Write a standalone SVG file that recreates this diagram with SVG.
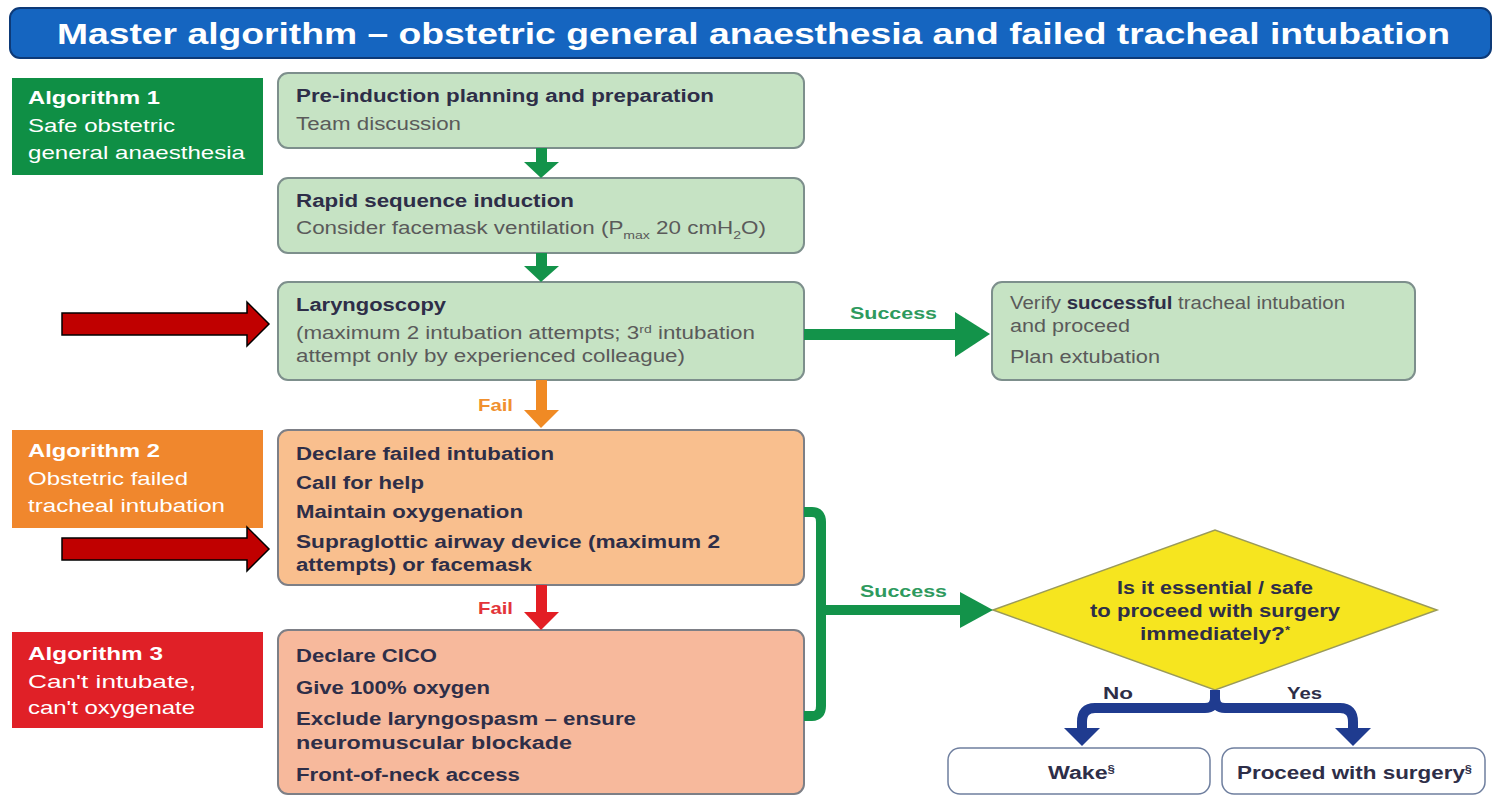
<svg xmlns="http://www.w3.org/2000/svg" width="1500" height="796" viewBox="0 0 1500 796">
<style>
text{font-family:"Liberation Sans",Arial,sans-serif}
.alg{fill:#fff;font-size:19px}
.algb{fill:#fff;font-size:19px;font-weight:bold}
.h{fill:#2e2e48;font-size:17.5px;font-weight:bold}
.t{fill:#5a5a5a;font-size:17.5px}
.gbox{fill:#c6e3c4;stroke:#7d8f8c;stroke-width:2}
.obox{fill:#f9bf8e;stroke:#7d7f86;stroke-width:2}
.rbox{fill:#f7b99c;stroke:#7d7f86;stroke-width:2}
.wbox{fill:#fff;stroke:#6f7f9f;stroke-width:1.5}
.lbl{font-size:17px;font-weight:bold}
.red{fill:#c00000;stroke:#000;stroke-width:1.5}
</style>
<rect width="1500" height="796" fill="#fff"/>
<g id="title">
<rect x="10" y="8" width="1481" height="50" rx="10" fill="#1565c0" stroke="#0d3a78" stroke-width="2"/>
<text x="57" y="44" fill="#fff" font-size="29" font-weight="bold" textLength="1393" lengthAdjust="spacingAndGlyphs">Master algorithm – obstetric general anaesthesia and failed tracheal intubation</text>
</g>
<g id="alg1">
<rect x="12" y="78" width="251" height="97" fill="#0f8f45"/>
<text class="algb" x="28" y="104" textLength="132" lengthAdjust="spacingAndGlyphs">Algorithm 1</text>
<text class="alg" x="28" y="132" textLength="147" lengthAdjust="spacingAndGlyphs">Safe obstetric</text>
<text class="alg" x="28" y="159" textLength="217" lengthAdjust="spacingAndGlyphs">general anaesthesia</text>
</g>
<g id="alg2">
<rect x="12" y="430" width="251" height="98" fill="#f0872d"/>
<text class="algb" x="28" y="457" textLength="132" lengthAdjust="spacingAndGlyphs">Algorithm 2</text>
<text class="alg" x="28" y="485" textLength="160" lengthAdjust="spacingAndGlyphs">Obstetric failed</text>
<text class="alg" x="28" y="512" textLength="197" lengthAdjust="spacingAndGlyphs">tracheal intubation</text>
</g>
<g id="alg3">
<rect x="12" y="632" width="251" height="96" fill="#e02027"/>
<text class="algb" x="28" y="660" textLength="135" lengthAdjust="spacingAndGlyphs">Algorithm 3</text>
<text class="alg" x="28" y="688" textLength="168" lengthAdjust="spacingAndGlyphs">Can't intubate,</text>
<text class="alg" x="28" y="714" textLength="167" lengthAdjust="spacingAndGlyphs">can't oxygenate</text>
</g>
<g id="preinduction">
<rect class="gbox" x="278" y="73" width="526" height="75" rx="10"/>
<text class="h" x="296" y="102" textLength="418" lengthAdjust="spacingAndGlyphs">Pre-induction planning and preparation</text>
<text class="t" x="296" y="130" textLength="165" lengthAdjust="spacingAndGlyphs">Team discussion</text>
</g>
<g id="rsi">
<rect class="gbox" x="278" y="178" width="526" height="75" rx="10"/>
<text class="h" x="296" y="207" textLength="278" lengthAdjust="spacingAndGlyphs">Rapid sequence induction</text>
<text class="t" x="296" y="234" textLength="470" lengthAdjust="spacingAndGlyphs">Consider facemask ventilation (P<tspan dy="5" font-size="11">max</tspan><tspan dy="-5"> 20 cmH</tspan><tspan dy="5" font-size="11">2</tspan><tspan dy="-5">O)</tspan></text>
</g>
<g id="laryngoscopy">
<rect class="gbox" x="278" y="282" width="526" height="98" rx="10"/>
<text class="h" x="296" y="311" textLength="150" lengthAdjust="spacingAndGlyphs">Laryngoscopy</text>
<text class="t" x="296" y="339" textLength="459" lengthAdjust="spacingAndGlyphs">(maximum 2 intubation attempts; 3<tspan dy="-6" font-size="11">rd</tspan><tspan dy="6"> intubation</tspan></text>
<text class="t" x="296" y="362" textLength="389" lengthAdjust="spacingAndGlyphs">attempt only by experienced colleague)</text>
</g>
<g id="verify">
<rect class="gbox" x="992" y="282" width="423" height="98" rx="10"/>
<text class="t" x="1010" y="309" textLength="335" lengthAdjust="spacingAndGlyphs">Verify <tspan font-weight="bold" fill="#2e2e48">successful</tspan> tracheal intubation</text>
<text class="t" x="1010" y="332" textLength="120" lengthAdjust="spacingAndGlyphs">and proceed</text>
<text class="t" x="1010" y="363" textLength="150" lengthAdjust="spacingAndGlyphs">Plan extubation</text>
</g>
<g id="failed">
<rect class="obox" x="278" y="430" width="526" height="155" rx="10"/>
<text class="h" x="296" y="460" textLength="258" lengthAdjust="spacingAndGlyphs">Declare failed intubation</text>
<text class="h" x="296" y="489" textLength="128" lengthAdjust="spacingAndGlyphs">Call for help</text>
<text class="h" x="296" y="518" textLength="227" lengthAdjust="spacingAndGlyphs">Maintain oxygenation</text>
<text class="h" x="296" y="548" textLength="424" lengthAdjust="spacingAndGlyphs">Supraglottic airway device (maximum 2</text>
<text class="h" x="296" y="571" textLength="236" lengthAdjust="spacingAndGlyphs">attempts) or facemask</text>
</g>
<g id="cico">
<rect class="rbox" x="278" y="630" width="526" height="164" rx="10"/>
<text class="h" x="296" y="662" textLength="141" lengthAdjust="spacingAndGlyphs">Declare CICO</text>
<text class="h" x="296" y="694" textLength="194" lengthAdjust="spacingAndGlyphs">Give 100% oxygen</text>
<text class="h" x="296" y="725" textLength="340" lengthAdjust="spacingAndGlyphs">Exclude laryngospasm – ensure</text>
<text class="h" x="296" y="749" textLength="276" lengthAdjust="spacingAndGlyphs">neuromuscular blockade</text>
<text class="h" x="296" y="781" textLength="224" lengthAdjust="spacingAndGlyphs">Front-of-neck access</text>
</g>
<g id="decision">
<polygon points="993,610 1215,530 1437,610 1215,690" fill="#f6e51f" stroke="#9a9a5a" stroke-width="1.5"/>
<text class="h" x="1117" y="594" font-size="16" textLength="196" lengthAdjust="spacingAndGlyphs">Is it essential / safe</text>
<text class="h" x="1090" y="617" font-size="16" textLength="250" lengthAdjust="spacingAndGlyphs">to proceed with surgery</text>
<text class="h" x="1140" y="640" font-size="16" textLength="150" lengthAdjust="spacingAndGlyphs">immediately?<tspan dy="-6" font-size="10">*</tspan></text>
</g>
<g id="wake">
<rect class="wbox" x="948" y="748" width="262" height="46" rx="12"/>
<text class="h" x="1048" y="779" font-size="16" textLength="67" lengthAdjust="spacingAndGlyphs">Wake<tspan dy="-6" font-size="10">§</tspan></text>
</g>
<g id="proceed">
<rect class="wbox" x="1222" y="748" width="263" height="46" rx="12"/>
<text class="h" x="1237" y="779" font-size="16" textLength="235" lengthAdjust="spacingAndGlyphs">Proceed with surgery<tspan dy="-6" font-size="10">§</tspan></text>
</g>
<g id="connectors">
<g fill="#13934a">
<rect x="536" y="148" width="11" height="15"/><polygon points="524,162 559,162 541,178"/>
<rect x="536" y="253" width="11" height="14"/><polygon points="524,266 559,266 541,282"/>
<rect x="804" y="329" width="153" height="11"/><polygon points="955,312 990,334 955,357"/>
<polygon points="960,592 993,610 960,628"/>
</g>
<path d="M804 512 H812 Q821 512 821 522 V706 Q821 716 812 716 H804 M821 610 H962" fill="none" stroke="#13934a" stroke-width="10"/>
<text class="lbl" x="850" y="319" fill="#2e9a5e" textLength="87" lengthAdjust="spacingAndGlyphs">Success</text>
<text class="lbl" x="860" y="597" fill="#2e9a5e" textLength="87" lengthAdjust="spacingAndGlyphs">Success</text>
<rect x="536" y="380" width="11" height="32" fill="#f08a24"/><polygon points="524,410 559,410 541,428" fill="#f08a24"/>
<text class="lbl" x="478" y="411" fill="#f0902f" textLength="35" lengthAdjust="spacingAndGlyphs">Fail</text>
<rect x="536" y="585" width="11" height="30" fill="#e31e24"/><polygon points="524,612 559,612 541,630" fill="#e31e24"/>
<text class="lbl" x="478" y="614" fill="#e3343a" textLength="35" lengthAdjust="spacingAndGlyphs">Fail</text>
<path d="M1215 690 V698 Q1215 708 1205 708 H1095 Q1082 708 1082 722 V730 M1215 698 Q1215 708 1225 708 H1340 Q1353 708 1353 722 V730" fill="none" stroke="#1f3b8f" stroke-width="10"/>
<polygon points="1064,728 1100,728 1082,746" fill="#1f3b8f"/>
<polygon points="1335,728 1371,728 1353,746" fill="#1f3b8f"/>
<text class="lbl" x="1103" y="699" fill="#2e2e48" font-size="16" textLength="30" lengthAdjust="spacingAndGlyphs">No</text>
<text class="lbl" x="1287" y="699" fill="#2e2e48" font-size="16" textLength="35" lengthAdjust="spacingAndGlyphs">Yes</text>
<path class="red" d="M62 313 H247 V302 L269 324 L247 346 V335 H62 Z"/>
<path class="red" d="M62 538 H247 V527 L269 549 L247 571 V560 H62 Z"/>
</g>
</svg>
